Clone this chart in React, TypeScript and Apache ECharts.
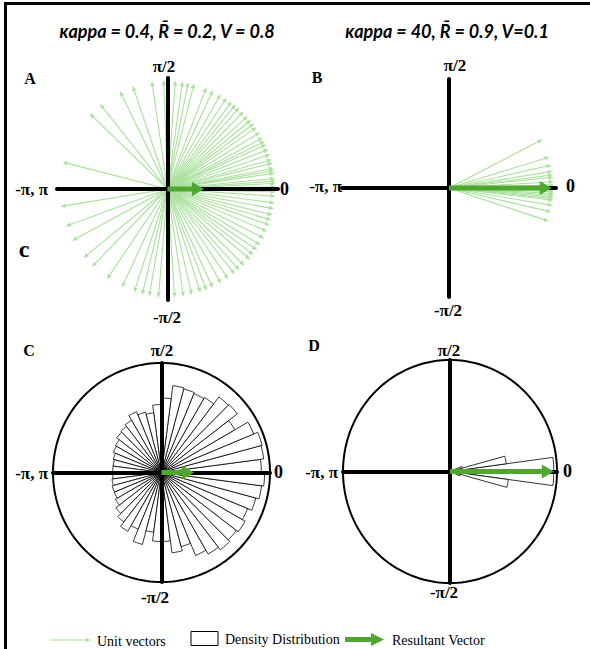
import React, { useEffect, useRef } from 'react';
import * as echarts from 'echarts';

// ---------- data ----------
const unitAnglesA = [
  165.7, 136, 128.6, 116, 108.7, 98.3, 92, 85.8, 82, 79, 75.8, 69, 65.3, 60.6, 57, 53.7, 51, 48.5, 45.4,
  42.2, 39.5, 37, 34.6, 31.4, 28.2, 26, 24.2, 21.4, 18.5, 15.7, 13.8, 11.1, 9.8, 8.4, 5.6, 4.2, 3, 1.2,
  -1.5, -3.8, -7.4, -10.5, -13.8, -16.6, -19.4, -23, -27, -30.9, -34.1, -37.3, -40.4, -44.8, -48.4,
  -51.6, -55.9, -60.3, -65.3, -68.8, -72.3, -77, -81.5, -86.2, -94.8, -99.7, -103.5, -108, -115, -124,
  -134.3, -140.8, -151.6, -160, -170.8,
];
const unitAnglesB = [
  27, 16.9, 12.3, 9, 7.1, 5.8, 3.4, 1.6, 0.5, -0.2, -1, -2, -3, -3.8, -4.7, -5.7, -6.6, -9.4, -13, -18.1,
];
const binCentersC = [
  -176.25, -168.75, -161.25, -153.75, -146.25, -138.75, -131.25, -123.75, -116.25, -108.75, -101.25, -93.75,
  -86.25, -78.75, -71.25, -63.75, -56.25, -48.75, -41.25, -33.75, -26.25, -18.75, -11.25, -3.75,
  3.75, 11.25, 18.75, 26.25, 33.75, 41.25, 48.75, 56.25, 63.75, 71.25, 78.75, 86.25,
  93.75, 101.25, 108.75, 116.25, 123.75, 131.25, 138.75, 146.25, 153.75, 161.25, 168.75, 176.25,
];
const densityC = [
  0.45, 0.46, 0.47, 0.47, 0.49, 0.53, 0.57, 0.62, 0.56, 0.68, 0.55, 0.63,
  0.63, 0.74, 0.7, 0.82, 0.86, 0.89, 0.87, 0.89, 0.86, 0.9, 0.93, 0.95,
  0.92, 0.95, 0.96, 0.92, 0.78, 0.88, 0.87, 0.79, 0.78, 0.79, 0.8, 0.68,
  0.62, 0.55, 0.57, 0.6, 0.55, 0.53, 0.52, 0.49, 0.48, 0.46, 0.45, 0.45,
];
const binWidthC = 7.5;
const binCentersD = [3.75, 11.25, 18.75, -3.75, -11.25, -18.75];
const densityD = [0.97, 0.53, 0.12, 0.97, 0.55, 0.1];
const binWidthD = 7.5;
const resultantAngles = [0, 0, 0, 0];
const resultantLengths = [0.33, 0.96, 0.3, 0.97];
const unitLength = 0.98;

const titles = ['κappa = 0.4, R\u0304 = 0.2, V = 0.8', 'κappa = 40, R\u0304 = 0.9, V=0.1'];
const panelLetters = ['A', 'B', 'C', 'D'];
const axisLabels = ['π/2', '-π, π', '0', '-π/2'];
const legendNames = ['Unit vectors', 'Density Distribution', 'Resultant Vector'];

// ---------- layout / style ----------
const LIGHT = '#abe09e';
const GREEN = '#4ea72e';
const gridBoxes = [
  { left: 57, top: 78, width: 221, height: 222 },
  { left: 342, top: 79, width: 214, height: 218 },
  { left: 53, top: 363, width: 217, height: 219 },
  { left: 343, top: 360, width: 214, height: 223 },
];
const labelPos = [
  { top: [164, 66], left: [48, 189], right: [280, 189], bottom: [167, 317], letter: [30, 78] },
  { top: [455, 65], left: [342, 186], right: [566, 186], bottom: [448, 310], letter: [317, 77] },
  { top: [162, 350], left: [48, 473], right: [274, 472], bottom: [155, 597], letter: [29, 350] },
  { top: [449, 350], left: [338, 472], right: [563, 471], bottom: [444, 592], letter: [314, 345] },
];
const titlePos = [[167, 31], [447, 31]];

const rad = (d: number) => (d * Math.PI) / 180;

const arrow = (p0: number[], p1: number[], h: number, w: number) => {
  const dx = p1[0] - p0[0];
  const dy = p1[1] - p0[1];
  const len = Math.hypot(dx, dy) || 1;
  const ux = dx / len;
  const uy = dy / len;
  const bx = p1[0] - ux * h;
  const by = p1[1] - uy * h;
  return {
    base: [bx, by],
    head: [
      [p1[0], p1[1]],
      [bx - uy * w, by + ux * w],
      [bx + uy * w, by - ux * w],
    ],
  };
};

const unitRender = (params: any, api: any) => {
  const a = rad(api.value(0));
  const L = api.value(1);
  const p0 = api.coord([0, 0]);
  const p1 = api.coord([L * Math.cos(a), L * Math.sin(a)]);
  const ar = arrow(p0, p1, 5, 2.2);
  return {
    type: 'group',
    children: [
      { type: 'line', shape: { x1: p0[0], y1: p0[1], x2: ar.base[0], y2: ar.base[1] }, style: { stroke: LIGHT, lineWidth: 1.1 } },
      { type: 'polygon', shape: { points: ar.head }, style: { fill: LIGHT } },
    ],
  };
};

const resultantRender = (params: any, api: any) => {
  const a = rad(api.value(0));
  const L = api.value(1);
  const p0 = api.coord([0, 0]);
  const p1 = api.coord([L * Math.cos(a), L * Math.sin(a)]);
  const ar = arrow(p0, p1, 12, 7);
  return {
    type: 'group',
    children: [
      { type: 'line', shape: { x1: p0[0], y1: p0[1], x2: ar.base[0] + 1, y2: ar.base[1] }, style: { stroke: GREEN, lineWidth: 5 } },
      { type: 'polygon', shape: { points: ar.head }, style: { fill: GREEN } },
    ],
  };
};

const wedgeRender = (binW: number) => (params: any, api: any) => {
  const c = api.value(0);
  const r = api.value(1);
  const pts: number[][] = [api.coord([0, 0])];
  const n = 6;
  for (let i = 0; i <= n; i++) {
    const a = rad(c - binW / 2 + (binW * i) / n);
    pts.push(api.coord([r * Math.cos(a), r * Math.sin(a)]));
  }
  return { type: 'polygon', shape: { points: pts }, style: { fill: '#ffffff', stroke: '#000000', lineWidth: 0.8 } };
};

const circleRender = (params: any, api: any) => {
  const r = api.value(0);
  const pts: number[][] = [];
  for (let i = 0; i < 180; i++) {
    const a = (i / 180) * Math.PI * 2;
    pts.push(api.coord([r * Math.cos(a), r * Math.sin(a)]));
  }
  return { type: 'polygon', shape: { points: pts }, style: { fill: 'none', stroke: '#000000', lineWidth: 2 } };
};

const serifBold = (size: number) => `bold ${size}px "Liberation Serif", "Times New Roman", serif`;

const txt = (text: string, x: number, y: number, font: string, align = 'center') => ({
  type: 'text',
  x,
  y,
  z: 10,
  style: { text, font, fill: '#000', align, verticalAlign: 'middle', textAlign: align, textVerticalAlign: 'middle' },
});

export default function App() {
  const ref = useRef<HTMLDivElement>(null);
  useEffect(() => {
    document.body.style.margin = '0';
    if (!ref.current) return;
    const chart = echarts.init(ref.current, undefined, { renderer: 'svg' });

    const axisBase = {
      type: 'value',
      min: -1,
      max: 1,
      z: 3,
      axisLine: { show: true, onZero: true, lineStyle: { color: '#000', width: 4 } },
      axisTick: { show: false },
      axisLabel: { show: false },
      splitLine: { show: false },
    };

    const series: any[] = [];
    const unitSets = [unitAnglesA, unitAnglesB];
    unitSets.forEach((arr, i) => {
      series.push({
        type: 'custom',
        name: legendNames[0],
        xAxisIndex: i,
        yAxisIndex: i,
        z: 2,
        renderItem: unitRender,
        data: arr.map((a) => [a, unitLength]),
      });
    });
    const dens = [
      { c: binCentersC, v: densityC, w: binWidthC },
      { c: binCentersD, v: densityD, w: binWidthD },
    ];
    dens.forEach((d, j) => {
      const i = j + 2;
      series.push({
        type: 'custom',
        name: 'circle',
        xAxisIndex: i,
        yAxisIndex: i,
        z: 2,
        renderItem: circleRender,
        data: [[1, 0]],
      });
      series.push({
        type: 'custom',
        name: legendNames[1],
        xAxisIndex: i,
        yAxisIndex: i,
        z: 2,
        renderItem: wedgeRender(d.w),
        data: d.c.map((c, k) => [c, d.v[k]]),
      });
    });
    resultantAngles.forEach((a, i) => {
      series.push({
        type: 'custom',
        name: legendNames[2],
        xAxisIndex: i,
        yAxisIndex: i,
        z: 5,
        renderItem: resultantRender,
        data: [[a, resultantLengths[i]]],
      });
    });

    const graphics: any[] = [];
    graphics.push({ type: 'line', shape: { x1: 4, y1: 3.5, x2: 590, y2: 3.5 }, style: { stroke: '#000', lineWidth: 3 } });
    graphics.push({ type: 'line', shape: { x1: 5.5, y1: 2, x2: 5.5, y2: 649 }, style: { stroke: '#000', lineWidth: 3 } });
    titles.forEach((t, i) => {
      graphics.push(txt(t, titlePos[i][0], titlePos[i][1], 'italic bold 18px Lato, "Open Sans", sans-serif'));
    });
    labelPos.forEach((p, i) => {
      graphics.push(txt(axisLabels[0], p.top[0], p.top[1], serifBold(17)));
      graphics.push(txt(axisLabels[1], p.left[0], p.left[1], serifBold(17), 'right'));
      graphics.push(txt(axisLabels[2], p.right[0], p.right[1], serifBold(18), 'left'));
      graphics.push(txt(axisLabels[3], p.bottom[0], p.bottom[1], serifBold(17)));
      graphics.push(txt(panelLetters[i], p.letter[0], p.letter[1], serifBold(16)));
    });
    graphics.push(txt('c', 24, 249, serifBold(24)));
    const lf = '14px "Liberation Serif", "Times New Roman", serif';
    graphics.push({ type: 'line', shape: { x1: 50, y1: 640, x2: 87, y2: 640 }, style: { stroke: LIGHT, lineWidth: 1 } });
    graphics.push({ type: 'polygon', shape: { points: [[91, 640], [86, 638], [86, 642]] }, style: { fill: LIGHT } });
    graphics.push(txt(legendNames[0], 97, 641, lf, 'left'));
    graphics.push({ type: 'rect', shape: { x: 191, y: 631.5, width: 27, height: 14 }, style: { fill: '#fff', stroke: '#000', lineWidth: 1 } });
    graphics.push(txt(legendNames[1], 225, 639, lf, 'left'));
    graphics.push({ type: 'line', shape: { x1: 345, y1: 639.5, x2: 372, y2: 639.5 }, style: { stroke: GREEN, lineWidth: 5 } });
    graphics.push({ type: 'polygon', shape: { points: [[384, 639.5], [371, 633], [371, 646]] }, style: { fill: GREEN } });
    graphics.push(txt(legendNames[2], 392, 640, lf, 'left'));

    chart.setOption({
      animation: false,
      backgroundColor: '#ffffff',
      grid: gridBoxes.map((g) => ({ ...g, containLabel: false })),
      xAxis: gridBoxes.map((_, i) => ({ ...axisBase, gridIndex: i })),
      yAxis: gridBoxes.map((_, i) => ({ ...axisBase, gridIndex: i })),
      series,
      graphic: graphics,
    });
    return () => chart.dispose();
  }, []);
  return <div ref={ref} style={{ width: 590, height: 649 }} />;
}
